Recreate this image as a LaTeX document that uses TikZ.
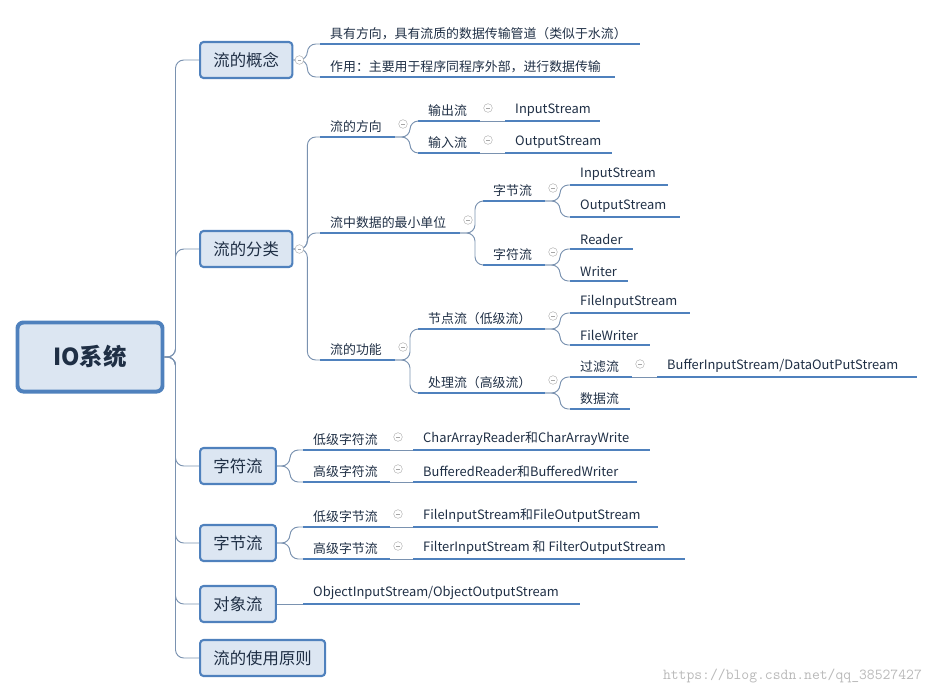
\documentclass[tikz,border=0pt]{standalone}
\usepackage{fontspec}
\newfontfamily\cjk{Noto Sans CJK SC}
\usepackage{tikz}
\usetikzlibrary{positioning}

\definecolor{lineblue}{HTML}{4F81BD}
\definecolor{boxfill}{HTML}{DCE6F2}
\definecolor{branchgray}{HTML}{7A92B0}
\definecolor{textdark}{HTML}{1F2F45}

% leaf: text sitting on a thick underline
\newcommand{\leaf}[5]{%
  \node[leaf] (#1) at (#2,#3) {#5};
  \draw[uline] (#1.south west) -- +(#4,0) coordinate (#1-e);}
% fold marker behind an underline
\newcommand{\fold}[1]{\node[foldc] (#1-m) at ([shift={(8,-13)}]#1-e) {};}

\begin{document}
\begin{tikzpicture}[
		x=0.03cm, y=-0.03cm,
		every node/.style={font=\cjk, text=textdark},
		root/.style={rectangle, draw=lineblue, line width=3.4pt, fill=boxfill, rounded corners=5pt,
			minimum width=4.35cm, minimum height=2.07cm, font=\cjk\bfseries\fontsize{20}{24}\selectfont},
		topic/.style={rectangle, draw=lineblue, line width=1.8pt, fill=boxfill, rounded corners=3pt,
			anchor=west, minimum height=1.08cm, inner xsep=0.4cm, font=\cjk\fontsize{14}{16}\selectfont},
		leaf/.style={anchor=south west, inner xsep=0.3cm, inner ysep=0.12cm, font=\cjk\fontsize{11}{13}\selectfont},
		uline/.style={draw=lineblue, line width=2.3pt},
		branch/.style={draw=branchgray, line width=0.8pt, rounded corners=0.25cm},
		foldc/.style={circle, draw=gray!60, line width=0.4pt, minimum size=0.26cm, inner sep=0, fill=white,
			path picture={\draw[gray!70] ([xshift=-1.6pt]path picture bounding box.center) -- ([xshift=1.6pt]path picture bounding box.center);}}
	]
		\useasboundingbox (0,0) rectangle (936,695);

		% Root and main topics
		\node[root] (io) at (90,357) {IO系统};
		\node[topic] (concept) at (199,60) {流的概念};
		\node[topic] (kinds) at (199,249) {流的分类};
		\node[topic] (charstr) at (199,466) {字符流};
		\node[topic] (bytestr) at (199,543) {字节流};
		\node[topic] (objstr) at (199,604) {对象流};
		\node[topic] (rules) at (199,658) {流的使用原则};

		\foreach \t in {concept,kinds,charstr,bytestr,rules,objstr}
			\draw[branch] (io.east) -- ++(11,0) |- (\t.west);

		% Concept
		\leaf{a1}{320}{44}{320}{具有方向，具有流质的数据传输管道（类似于水流）}
		\leaf{a2}{320}{77}{295}{作用：主要用于程序同程序外部，进行数据传输}
		\draw[branch] (concept.east) -- ++(14,0) |- (a1.south west);
		\draw[branch] (concept.east) -- ++(14,0) |- (a2.south west);

		% Classification
		\leaf{b1}{320}{137}{75}{流的方向}
		\leaf{b2}{320}{233}{140}{流中数据的最小单位}
		\leaf{b3}{320}{360}{75}{流的功能}
		\foreach \c in {b1,b2,b3}
			\draw[branch] (kinds.east) -- ++(14,0) |- (\c.south west);

		\leaf{b11}{418}{121}{62}{输出流}
		\leaf{b12}{418}{153}{62}{输入流}
		\leaf{b111}{505}{121}{95}{InputStream}
		\leaf{b121}{505}{153}{107}{OutputStream}
		\leaf{b21}{483}{201}{62}{字节流}
		\leaf{b22}{483}{265}{62}{字符流}
		\leaf{b211}{570}{185}{98}{InputStream}
		\leaf{b212}{570}{217}{110}{OutputStream}
		\leaf{b221}{570}{249}{63}{Reader}
		\leaf{b222}{570}{281}{58}{Writer}
		\leaf{b31}{418}{329}{127}{节点流（低级流）}
		\leaf{b32}{418}{393}{127}{处理流（高级流）}
		\leaf{b311}{570}{313}{120}{FileInputStream}
		\leaf{b312}{570}{345}{80}{FileWriter}
		\leaf{b321}{570}{377}{62}{过滤流}
		\leaf{b322}{570}{409}{60}{数据流}
		\leaf{b3211}{657}{377}{260}{BufferInputStream/DataOutPutStream}

		\draw[branch] (b1-e) -- ++(15,0) |- (b11.south west);
		\draw[branch] (b1-e) -- ++(15,0) |- (b12.south west);
		\draw[branch] (b11-e) -- (b111.south west);
		\draw[branch] (b12-e) -- (b121.south west);
		\draw[branch] (b2-e) -- ++(15,0) |- (b21.south west);
		\draw[branch] (b2-e) -- ++(15,0) |- (b22.south west);
		\draw[branch] (b21-e) -- ++(15,0) |- (b211.south west);
		\draw[branch] (b21-e) -- ++(15,0) |- (b212.south west);
		\draw[branch] (b22-e) -- ++(15,0) |- (b221.south west);
		\draw[branch] (b22-e) -- ++(15,0) |- (b222.south west);
		\draw[branch] (b3-e) -- ++(15,0) |- (b31.south west);
		\draw[branch] (b3-e) -- ++(15,0) |- (b32.south west);
		\draw[branch] (b31-e) -- ++(15,0) |- (b311.south west);
		\draw[branch] (b31-e) -- ++(15,0) |- (b312.south west);
		\draw[branch] (b32-e) -- ++(15,0) |- (b321.south west);
		\draw[branch] (b32-e) -- ++(15,0) |- (b322.south west);
		\draw[branch] (b321-e) -- (b3211.south west);

		% Character and byte streams
		\leaf{c1}{303}{450}{87}{低级字符流}
		\leaf{c2}{303}{482}{87}{高级字符流}
		\leaf{c11}{413}{450}{237}{CharArrayReader和CharArrayWrite}
		\leaf{c21}{413}{482}{224}{BufferedReader和BufferedWriter}
		\leaf{d1}{303}{527}{87}{低级字节流}
		\leaf{d2}{303}{559}{87}{高级字节流}
		\leaf{d11}{413}{527}{245}{FileInputStream和FileOutputStream}
		\leaf{d21}{413}{559}{272}{FilterInputStream 和 FilterOutputStream}
		\leaf{e1}{303}{604}{277}{ObjectInputStream/ObjectOutputStream}

		\draw[branch] (charstr.east) -- ++(13,0) |- (c1.south west);
		\draw[branch] (charstr.east) -- ++(13,0) |- (c2.south west);
		\draw[branch] (bytestr.east) -- ++(13,0) |- (d1.south west);
		\draw[branch] (bytestr.east) -- ++(13,0) |- (d2.south west);
		\foreach \p/\c in {c1/c11,c2/c21,d1/d11,d2/d21}
			\draw[branch] (\p-e) -- (\c.south west);
		\draw[branch] (objstr.east) -- (e1.south west);

		% Fold markers
		\foreach \t in {concept,kinds}
			\node[foldc] (\t-m) at ([xshift=0.18cm]\t.east) {};
		\foreach \n in {b1,b2,b3,b11,b12,b21,b22,b31,b32,b321,c1,c2,d1,d2}
			{\fold{\n}}

		% Watermark
		\node[anchor=east, font=\ttfamily\fontsize{13}{15}\selectfont, text=gray!55] (wm) at (926,676) {https://blog.csdn.net/qq\_38527427};
	\end{tikzpicture}
\end{document}
